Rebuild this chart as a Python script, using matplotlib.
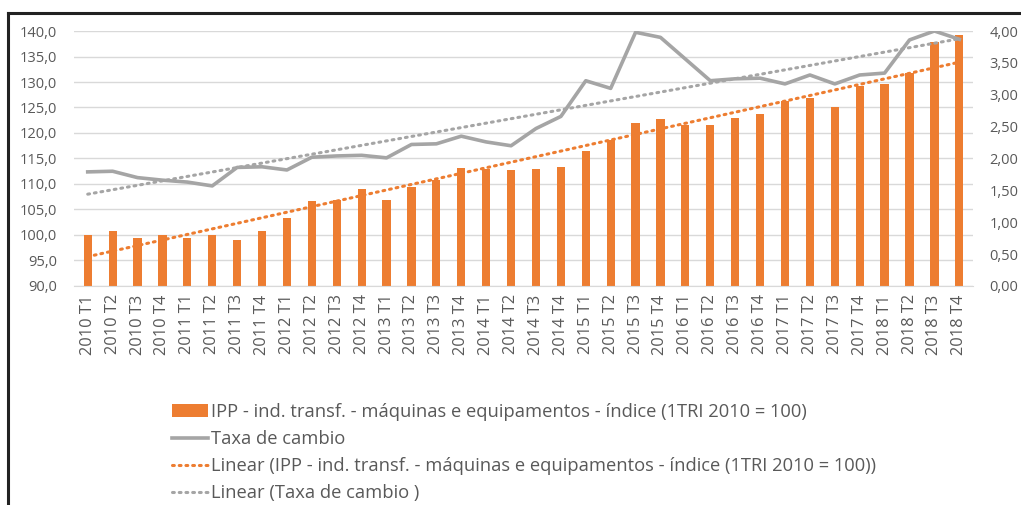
import numpy as np
import matplotlib
matplotlib.use('Agg')
import matplotlib.pyplot as plt
from matplotlib.ticker import FuncFormatter
from matplotlib.lines import Line2D

plt.rcParams['font.family'] = ['Open Sans', 'DejaVu Sans']

anos = [2010, 2011, 2012, 2013, 2014, 2015, 2016, 2017, 2018]
trimestres = ["%d T%d" % (a, t) for a in anos for t in range(1, 5)]

ipp = [100.0, 100.8, 99.5, 100.0, 99.5, 100.0, 99.1, 100.8,
       103.4, 106.7, 106.9, 109.0, 106.9, 109.5, 110.8, 113.1,
       112.9, 112.7, 112.9, 113.4, 116.4, 118.6, 122.0, 122.7,
       121.6, 121.6, 122.9, 123.8, 126.3, 126.9, 125.1, 129.2,
       129.7, 131.7, 137.8, 139.3]

cambio = [1.79, 1.80, 1.70, 1.66, 1.63, 1.57, 1.86, 1.87,
          1.82, 2.02, 2.04, 2.05, 2.01, 2.22, 2.23, 2.35,
          2.26, 2.20, 2.47, 2.66, 3.22, 3.10, 3.98, 3.90,
          3.56, 3.22, 3.25, 3.26, 3.17, 3.31, 3.17, 3.31,
          3.34, 3.86, 4.00, 3.87]

laranja = '#ed7d31'
cinza = '#a5a5a5'
texto = '#595959'

x = np.arange(len(trimestres))
# linhas de tendencia (regressao linear, como no Excel)
c1 = np.polyfit(x, ipp, 1)
c2 = np.polyfit(x, cambio, 1)

fig = plt.figure(figsize=(10.21, 5.05), dpi=100)
ax = fig.add_axes([0.0725, 0.4337, 0.8805, 0.5049])
ax2 = ax.twinx()

barras = ax.bar(x, ipp, width=0.33, color=laranja, zorder=2)
tend1, = ax.plot(x, np.polyval(c1, x), color=laranja, linestyle=(0, (0.6, 1.6)), linewidth=2.2,
                 dash_capstyle='round', zorder=3)
linha, = ax2.plot(x, cambio, color=cinza, linewidth=2.6, solid_joinstyle='round')
tend2, = ax2.plot(x, np.polyval(c2, x), color=cinza, linestyle=(0, (0.6, 1.6)), linewidth=2.2,
                  dash_capstyle='round')

ax.set_xlim(-0.55, len(x) - 0.45)
ax.set_ylim(90, 140)
ax.set_yticks(np.arange(90, 141, 5))
ax2.set_ylim(0, 4)
ax2.set_yticks(np.arange(0, 4.01, 0.5))
ax.yaxis.set_major_formatter(FuncFormatter(lambda v, p: ("%.1f" % v).replace('.', ',')))
ax2.yaxis.set_major_formatter(FuncFormatter(lambda v, p: ("%.2f" % v).replace('.', ',')))

ax.set_xticks(x)
ax.set_xticklabels(trimestres, rotation=90)
ax.grid(axis='y', color='#d9d9d9', linewidth=1, zorder=0)
ax.set_axisbelow(True)
for a in (ax, ax2):
    for s in a.spines.values():
        s.set_visible(False)
    a.tick_params(length=0, labelsize=10.5, labelcolor=texto)
ax.spines['bottom'].set_visible(True)
ax.spines['bottom'].set_color('#d9d9d9')
ax.tick_params(axis='y', pad=12)
ax.tick_params(axis='x', pad=6, labelsize=11.8)
ax2.tick_params(axis='y', pad=12)

handles = [barras, linha, tend1, tend2]
labels = ['IPP - ind. transf. - máquinas e equipamentos - índice (1TRI 2010 = 100)',
          'Taxa de cambio',
          'Linear (IPP - ind. transf. - máquinas e equipamentos - índice (1TRI 2010 = 100))',
          'Linear (Taxa de cambio )']
fig.legend(handles, labels, loc='upper left', bbox_to_anchor=(0.1685, 0.202),
           frameon=False, fontsize=13.2, labelcolor=texto, handlelength=1.95,
           handletextpad=0.2, labelspacing=0.5, borderaxespad=0, borderpad=0)

# moldura
fig.add_artist(Line2D([8 / 1021, 1], [1 - 13 / 505, 1 - 13 / 505], color='#222222', linewidth=2.2))
fig.add_artist(Line2D([8 / 1021, 8 / 1021], [0, 1 - 13 / 505], color='#222222', linewidth=2.2))

fig.savefig('out.png', dpi=100)
